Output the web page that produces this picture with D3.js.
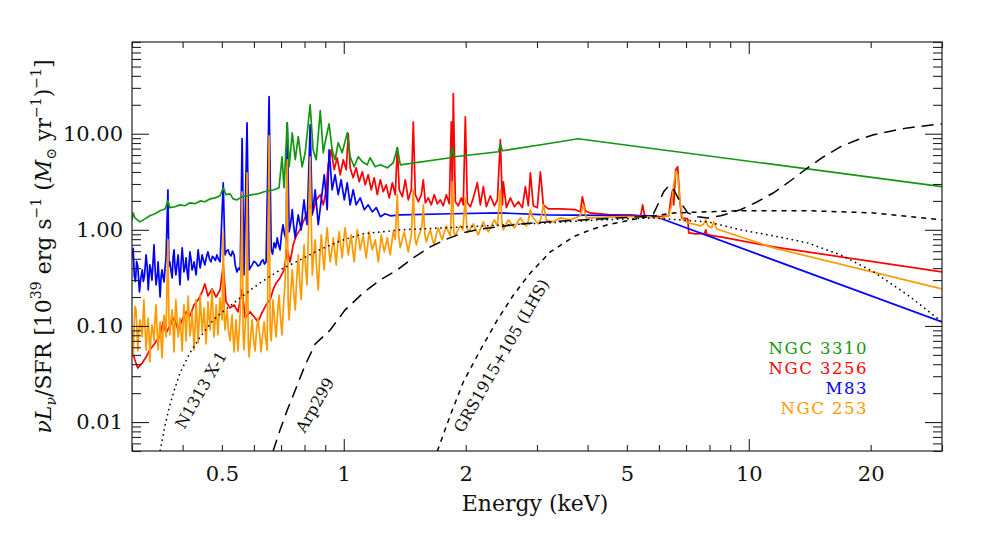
<!DOCTYPE html>
<html>
<head>
<meta charset="utf-8">
<script src="https://cdn.jsdelivr.net/npm/d3@7"></script>
<style>
  body { margin: 0; background: #fff; }
  svg text { font-family: "DejaVu Serif", serif; }
</style>
</head>
<body>
<svg id="drawing_region"></svg>
<script>
// ---- data: [energy keV, nuL_nu/SFR] ----
const ngc3310 = [[0.300,1.27],[0.302,1.50],[0.305,1.33],[0.314,1.21],[0.323,1.30],[0.332,1.40],[0.342,1.47],[0.352,1.58],[0.362,1.65],[0.368,2.00],[0.372,1.70],[0.383,1.74],[0.394,1.82],[0.405,1.78],[0.417,1.91],[0.429,1.87],[0.442,2.00],[0.454,1.96],[0.468,2.10],[0.481,2.15],[0.495,2.26],[0.504,2.74],[0.512,2.32],[0.524,2.37],[0.533,2.10],[0.545,2.05],[0.561,2.21],[0.577,2.26],[0.594,2.32],[0.614,2.37],[0.636,2.49],[0.654,2.55],[0.673,2.61],[0.692,2.74],[0.704,5.76],[0.712,2.74],[0.725,13.0],[0.733,4.53],[0.746,10.2],[0.759,5.36],[0.772,9.31],[0.789,4.53],[0.803,6.34],[0.826,20.0],[0.840,6.81],[0.855,5.36],[0.875,17.4],[0.890,6.34],[0.899,8.06],[0.920,12.7],[0.936,6.81],[0.952,5.36],[0.969,8.06],[0.991,6.34],[1.020,10.2],[1.037,5.76],[1.061,4.53],[1.086,5.76],[1.111,5.11],[1.143,4.75],[1.161,5.62],[1.196,4.53],[1.231,4.75],[1.281,4.42],[1.325,4.99],[1.356,7.15],[1.379,4.75],[1.833,5.62],[1.854,7.15],[1.875,5.76],[2.41,6.49],[2.436,7.68],[2.464,6.65],[3.18,7.87],[3.79,8.87],[30,2.81]];

const ngc3256 = [[0.300,0.0562],[0.305,0.0442],[0.310,0.0365],[0.318,0.0412],[0.325,0.0475],[0.332,0.0562],[0.342,0.0665],[0.352,0.0806],[0.358,0.110],[0.364,0.0845],[0.372,0.100],[0.381,0.121],[0.390,0.0909],[0.399,0.1155],[0.408,0.140],[0.417,0.127],[0.427,0.1655],[0.437,0.187],[0.447,0.226],[0.454,0.274],[0.462,0.205],[0.473,0.243],[0.484,0.200],[0.495,0.237],[0.504,0.432],[0.512,0.178],[0.524,0.154],[0.536,0.1655],[0.548,0.140],[0.561,0.237],[0.571,0.121],[0.587,0.140],[0.604,0.121],[0.614,0.110],[0.628,0.137],[0.643,0.1655],[0.658,0.187],[0.669,0.237],[0.681,0.280],[0.696,0.316],[0.712,0.383],[0.725,0.619],[0.737,0.464],[0.750,0.698],[0.763,0.866],[0.780,1.00],[0.794,1.21],[0.808,1.43],[0.826,1.82],[0.840,1.54],[0.855,2.05],[0.875,2.32],[0.890,1.82],[0.905,2.61],[0.915,4.75],[0.931,6.81],[0.947,4.22],[0.963,5.62],[0.980,3.74],[0.997,5.36],[1.014,4.22],[1.026,10.0],[1.037,4.42],[1.055,3.48],[1.073,4.42],[1.092,3.16],[1.111,4.02],[1.130,2.94],[1.149,3.74],[1.169,2.61],[1.189,3.48],[1.210,2.32],[1.231,3.32],[1.252,2.49],[1.273,2.94],[1.295,2.15],[1.318,3.09],[1.340,2.32],[1.356,7.15],[1.371,2.61],[1.395,2.21],[1.419,3.32],[1.443,2.05],[1.468,2.61],[1.485,13.3],[1.502,2.32],[1.528,1.96],[1.554,2.32],[1.572,3.32],[1.590,1.91],[1.617,2.15],[1.645,1.82],[1.673,2.32],[1.702,1.87],[1.731,2.05],[1.761,1.78],[1.792,2.32],[1.822,1.87],[1.843,13.3],[1.854,2.05],[1.864,26.1],[1.886,1.96],[1.918,1.78],[1.951,2.15],[1.973,1.82],[1.996,15.0],[2.019,1.91],[2.054,1.74],[2.089,2.15],[2.137,3.09],[2.174,1.82],[2.211,2.81],[2.25,1.74],[2.301,2.26],[2.354,1.78],[2.395,2.05],[2.436,8.66],[2.464,1.82],[2.478,3.16],[2.521,1.70],[2.579,2.15],[2.638,1.74],[2.699,1.96],[2.761,1.70],[2.808,2.81],[2.856,1.78],[2.889,3.92],[2.938,1.78],[3.006,1.70],[3.058,4.02],[3.110,1.82],[3.200,1.65],[3.426,1.65],[3.731,1.62],[3.839,1.54],[3.883,2.21],[3.949,1.58],[4.063,1.50],[4.556,1.43],[5.107,1.43],[5.408,1.40],[5.470,1.82],[5.532,1.40],[6.06,1.37],[6.344,1.40],[6.416,2.05],[6.49,2.61],[6.527,1.82],[6.602,4.22],[6.677,4.53],[6.754,2.05],[6.831,1.33],[7.069,1.30],[7.109,0.931],[7.397,0.909],[7.78,0.92],[7.83,1.00],[7.88,0.90],[8.15,0.866],[8.53,0.846],[11.51,0.665],[30,0.365]];

const m83 = [[0.300,0.511],[0.302,0.640],[0.304,0.330],[0.306,0.290],[0.308,0.470],[0.310,0.420],[0.313,0.226],[0.315,0.300],[0.318,0.383],[0.320,0.290],[0.322,0.330],[0.325,0.549],[0.327,0.420],[0.329,0.237],[0.332,0.432],[0.334,0.380],[0.336,0.300],[0.339,0.560],[0.340,0.698],[0.342,0.400],[0.344,0.267],[0.347,0.360],[0.348,0.464],[0.350,0.300],[0.352,0.200],[0.354,0.330],[0.356,0.383],[0.358,0.320],[0.360,0.287],[0.362,0.400],[0.364,0.511],[0.368,2.61],[0.370,0.420],[0.372,0.464],[0.375,0.360],[0.377,0.316],[0.379,0.520],[0.381,0.619],[0.383,0.420],[0.385,0.340],[0.388,0.460],[0.390,0.549],[0.392,0.380],[0.394,0.267],[0.397,0.480],[0.399,0.649],[0.401,0.500],[0.403,0.365],[0.406,0.420],[0.408,0.511],[0.410,0.380],[0.413,0.301],[0.415,0.450],[0.417,0.590],[0.420,0.480],[0.422,0.383],[0.425,0.420],[0.427,0.464],[0.430,0.380],[0.432,0.340],[0.435,0.500],[0.437,0.619],[0.440,0.470],[0.442,0.402],[0.445,0.480],[0.447,0.549],[0.451,0.470],[0.454,0.432],[0.458,0.520],[0.462,0.590],[0.466,0.500],[0.470,0.464],[0.474,0.530],[0.478,0.511],[0.482,0.480],[0.486,0.549],[0.490,0.500],[0.495,0.464],[0.504,3.09],[0.509,0.549],[0.513,0.600],[0.518,0.619],[0.522,0.560],[0.527,0.536],[0.531,0.600],[0.536,0.549],[0.540,0.420],[0.545,0.365],[0.550,0.400],[0.555,0.383],[0.561,8.87],[0.567,0.340],[0.577,13.0],[0.584,0.383],[0.589,0.410],[0.594,0.432],[0.600,0.470],[0.607,0.453],[0.614,0.420],[0.621,0.432],[0.626,0.470],[0.632,0.487],[0.637,0.440],[0.643,0.464],[0.654,24.3],[0.662,0.619],[0.667,0.560],[0.673,0.732],[0.679,0.650],[0.685,0.825],[0.690,0.700],[0.696,0.619],[0.702,0.900],[0.708,1.13],[0.714,0.900],[0.721,0.787],[0.725,13.0],[0.733,0.953],[0.740,1.20],[0.746,1.62],[0.752,1.10],[0.759,0.825],[0.765,1.10],[0.772,1.43],[0.778,1.20],[0.785,1.00],[0.791,1.50],[0.798,2.05],[0.805,1.40],[0.812,1.13],[0.826,12.4],[0.836,1.43],[0.850,2.61],[0.865,1.13],[0.880,2.05],[0.895,3.74],[0.910,1.62],[0.920,6.81],[0.936,2.61],[0.952,3.74],[0.969,2.32],[0.985,3.32],[1.003,2.05],[1.020,3.09],[1.037,1.82],[1.055,2.61],[1.073,1.82],[1.098,2.15],[1.124,1.62],[1.149,1.82],[1.176,1.54],[1.203,1.70],[1.231,1.37],[1.265,1.47],[1.303,1.40],[1.379,1.43],[1.854,1.47],[2.436,1.50],[3.18,1.43],[5.815,1.40],[30,0.110]];

const ngc253 = [[0.300,0.0909],[0.302,0.0500],[0.303,0.0698],[0.305,0.160],[0.307,0.147],[0.309,0.080],[0.310,0.0549],[0.312,0.090],[0.314,0.1155],[0.316,0.095],[0.318,0.0768],[0.320,0.140],[0.321,0.187],[0.323,0.100],[0.325,0.0562],[0.327,0.085],[0.329,0.121],[0.331,0.070],[0.332,0.0422],[0.334,0.075],[0.336,0.1024],[0.338,0.090],[0.340,0.0698],[0.342,0.120],[0.344,0.1655],[0.346,0.090],[0.348,0.0562],[0.350,0.080],[0.352,0.110],[0.354,0.070],[0.356,0.0464],[0.358,0.090],[0.360,0.130],[0.362,0.110],[0.364,0.0768],[0.368,0.787],[0.370,0.120],[0.372,0.0806],[0.374,0.110],[0.377,0.147],[0.379,0.090],[0.381,0.0536],[0.383,0.120],[0.385,0.187],[0.388,0.110],[0.390,0.0768],[0.392,0.090],[0.394,0.121],[0.397,0.080],[0.399,0.0549],[0.401,0.100],[0.403,0.1655],[0.406,0.110],[0.408,0.0698],[0.410,0.120],[0.413,0.205],[0.415,0.120],[0.417,0.0787],[0.420,0.100],[0.422,0.140],[0.425,0.090],[0.427,0.0562],[0.430,0.110],[0.432,0.187],[0.435,0.100],[0.437,0.0665],[0.440,0.130],[0.442,0.210],[0.445,0.120],[0.447,0.0867],[0.450,0.120],[0.452,0.154],[0.455,0.090],[0.457,0.0649],[0.460,0.110],[0.462,0.178],[0.465,0.120],[0.468,0.0909],[0.470,0.150],[0.473,0.237],[0.476,0.120],[0.478,0.0768],[0.481,0.110],[0.484,0.1655],[0.487,0.110],[0.489,0.0806],[0.492,0.130],[0.495,0.196],[0.498,0.140],[0.501,0.1155],[0.504,0.953],[0.507,0.120],[0.509,0.0909],[0.512,0.120],[0.515,0.147],[0.519,0.090],[0.524,0.0698],[0.527,0.100],[0.530,0.130],[0.533,0.080],[0.536,0.0536],[0.539,0.080],[0.542,0.1155],[0.545,0.080],[0.548,0.0549],[0.552,0.090],[0.555,0.140],[0.561,2.49],[0.564,0.090],[0.567,0.0562],[0.571,0.100],[0.574,0.147],[0.577,3.92],[0.581,0.070],[0.584,0.0475],[0.589,0.080],[0.594,0.1155],[0.599,0.070],[0.604,0.0549],[0.609,0.090],[0.614,0.121],[0.620,0.080],[0.625,0.0536],[0.630,0.080],[0.636,0.110],[0.641,0.075],[0.647,0.0562],[0.654,9.53],[0.658,0.090],[0.662,0.0698],[0.666,0.120],[0.669,0.187],[0.675,0.110],[0.681,0.0768],[0.686,0.130],[0.692,0.210],[0.698,0.120],[0.704,0.0806],[0.710,0.170],[0.717,0.301],[0.725,5.36],[0.729,0.180],[0.733,0.1155],[0.740,0.230],[0.746,0.383],[0.752,0.230],[0.759,0.147],[0.765,0.300],[0.772,0.549],[0.778,0.300],[0.785,0.187],[0.791,0.400],[0.798,0.698],[0.805,0.400],[0.812,0.267],[0.826,5.76],[0.836,0.340],[0.843,0.550],[0.850,0.787],[0.857,0.400],[0.865,0.237],[0.872,0.500],[0.880,0.887],[0.887,0.550],[0.895,0.383],[0.902,0.700],[0.910,1.05],[0.918,0.650],[0.926,0.464],[0.934,0.600],[0.942,0.825],[0.950,0.600],[0.958,0.432],[0.966,0.700],[0.974,0.953],[0.982,0.700],[0.991,0.511],[1.000,0.800],[1.008,1.05],[1.017,0.750],[1.026,0.549],[1.034,0.700],[1.043,0.887],[1.052,0.620],[1.061,0.464],[1.070,0.700],[1.080,1.00],[1.089,0.800],[1.098,0.619],[1.108,0.750],[1.117,0.866],[1.127,0.650],[1.136,0.511],[1.146,0.700],[1.156,0.953],[1.166,0.750],[1.176,0.619],[1.186,0.700],[1.196,0.787],[1.207,0.600],[1.217,0.464],[1.228,0.650],[1.238,0.887],[1.249,0.700],[1.259,0.590],[1.270,0.700],[1.281,0.825],[1.292,0.650],[1.303,0.549],[1.314,0.750],[1.325,0.953],[1.340,0.800],[1.356,2.32],[1.367,0.850],[1.379,0.649],[1.395,0.800],[1.411,0.953],[1.427,0.750],[1.443,0.590],[1.456,0.750],[1.468,0.866],[1.485,2.61],[1.500,0.800],[1.511,0.698],[1.528,0.850],[1.545,0.953],[1.560,1.10],[1.572,1.82],[1.585,0.900],[1.599,0.750],[1.618,0.880],[1.636,1.00],[1.655,0.800],[1.673,0.698],[1.692,0.900],[1.712,1.05],[1.731,0.900],[1.751,0.787],[1.771,0.950],[1.792,1.10],[1.812,0.950],[1.833,0.866],[1.854,3.16],[1.870,0.950],[1.886,0.866],[1.913,1.00],[1.940,1.10],[1.968,1.00],[1.996,2.15],[2.013,1.05],[2.030,0.953],[2.060,1.05],[2.089,1.15],[2.119,1.00],[2.149,0.887],[2.180,1.05],[2.211,1.21],[2.243,1.05],[2.275,0.953],[2.314,1.10],[2.354,1.27],[2.395,1.10],[2.436,2.61],[2.457,1.20],[2.478,1.00],[2.514,1.15],[2.550,1.27],[2.594,1.15],[2.638,1.05],[2.684,1.20],[2.730,1.33],[2.777,1.20],[2.824,1.10],[2.856,1.25],[2.889,1.62],[2.922,1.37],[2.972,1.25],[3.023,1.15],[3.066,1.30],[3.110,1.82],[3.164,1.27],[3.274,1.21],[3.426,1.33],[3.626,1.27],[3.839,1.40],[3.905,1.82],[3.97,1.33],[4.30,1.33],[4.82,1.37],[5.47,1.37],[6.06,1.33],[6.34,1.40],[6.45,1.82],[6.527,2.94],[6.602,4.02],[6.677,3.74],[6.754,2.05],[6.870,1.27],[7.11,1.18],[7.61,1.10],[7.74,1.15],[7.83,1.27],[7.92,1.10],[8.10,1.05],[8.20,1.21],[8.34,1.02],[11.51,0.649],[30,0.243]];

const n1313 = [[0.352,0.00499],[0.362,0.0093],[0.372,0.0150],[0.383,0.0226],[0.394,0.0324],[0.417,0.0523],[0.442,0.0768],[0.476,0.1155],[0.509,0.147],[0.555,0.196],[0.621,0.280],[0.696,0.383],[0.780,0.487],[0.860,0.604],[0.980,0.768],[1.117,0.909],[1.379,1.00],[1.973,1.07],[3.18,1.18],[4.30,1.27],[5.815,1.33],[7.92,1.21],[9.54,1.00],[11.51,0.866],[13.97,0.732],[16.86,0.549],[20.34,0.365],[24.69,0.210],[30,0.110]];

const arp299 = [[0.669,0.00499],[0.696,0.00825],[0.725,0.0133],[0.759,0.0215],[0.803,0.0392],[0.850,0.0649],[0.926,0.0909],[1.008,0.147],[1.117,0.221],[1.231,0.301],[1.356,0.383],[1.485,0.511],[1.636,0.665],[1.801,0.806],[1.973,0.931],[2.174,1.02],[2.395,1.07],[2.730,1.15],[3.18,1.21],[4.30,1.30],[5.41,1.37],[5.815,1.47],[5.993,1.91],[6.166,2.49],[6.344,2.87],[6.527,2.61],[6.792,1.91],[7.069,1.50],[7.483,1.37],[7.92,1.33],[8.53,1.40],[9.54,1.62],[10.5,1.96],[11.51,2.43],[12.68,3.24],[13.97,4.42],[15.3,5.76],[16.86,7.33],[18.57,8.66],[20.34,9.76],[22.53,10.7],[24.69,11.5],[27.35,12.1],[30,12.7]];

const grs1915 = [[1.702,0.00499],[1.833,0.0118],[1.973,0.0261],[2.174,0.0562],[2.395,0.1155],[2.624,0.210],[2.889,0.356],[3.237,0.590],[3.689,0.846],[4.063,1.00],[4.483,1.13],[5.408,1.33],[6.527,1.50],[7.92,1.54],[9.54,1.58],[13.97,1.58],[20.34,1.50],[30,1.27]];

const seriesNames  = ['NGC 3310', 'NGC 3256', 'M83', 'NGC 253'];
const seriesColors = ['#129612', '#ff0000', '#0000ff', '#ff9900'];
const xTickLabels  = [0.5, 1, 2, 5, 10, 20];
const yTickLabels  = [0.01, 0.1, 1, 10];

// ---- layout ----
const config = {
    width: 981,
    height: 535,
    margin: {top: 42, right: 39, bottom: 84, left: 132}
};
const inner_width  = config.width - config.margin.left - config.margin.right;
const inner_height = config.height - config.margin.top - config.margin.bottom;

const svg = d3.select('#drawing_region')
    .attr('width', config.width)
    .attr('height', config.height);

const chart = svg.append('g')
    .attr('transform', `translate(${config.margin.left}, ${config.margin.top})`);

const xscale = d3.scaleLog().domain([0.3, 30]).range([0, inner_width]);
const yscale = d3.scaleLog().domain([0.005, 90]).range([inner_height, 0]);

chart.append('clipPath').attr('id', 'clip')
    .append('rect').attr('width', inner_width).attr('height', inner_height);

const line = d3.line()
    .x(d => xscale(d[0]))
    .y(d => yscale(d[1]));

const plot = chart.append('g').attr('clip-path', 'url(#clip)');

// coloured spectra (draw order: red, blue, orange, green)
[[ngc3256, 1], [m83, 2], [ngc253, 3], [ngc3310, 0]].forEach(([data, i]) => {
    plot.append('path')
        .datum(data)
        .attr('d', line)
        .attr('fill', 'none')
        .attr('stroke', seriesColors[i])
        .attr('stroke-width', 1.7)
        .attr('stroke-linejoin', 'round');
});

// black template spectra
const templates = [
    {data: n1313,   dash: '1.6,3.6'},
    {data: arp299,  dash: '12,7'},
    {data: grs1915, dash: '5,5'}
];
templates.forEach(t => {
    plot.append('path')
        .datum(t.data)
        .attr('d', line)
        .attr('fill', 'none')
        .attr('stroke', '#000')
        .attr('stroke-width', 1.5)
        .attr('stroke-dasharray', t.dash);
});

// ---- axes: inward ticks on all four sides ----
const xAll = xscale.ticks();
const yAll = yscale.ticks();
const isDecade = v => Math.abs(Math.log10(v) - Math.round(Math.log10(v))) < 1e-6;
const xMajor = xAll.filter(isDecade);
const xMinor = xAll.filter(v => !isDecade(v));
const yMajor = yAll.filter(isDecade);
const yMinor = yAll.filter(v => !isDecade(v));

function tickGroup(axis, transform) {
    const g = chart.append('g').attr('transform', transform).call(axis);
    g.select('.domain').remove();
    g.selectAll('line').attr('stroke', '#222').attr('stroke-width', 1.1);
    g.selectAll('text').remove();
}
tickGroup(d3.axisBottom(xscale).tickValues(xMinor).tickSize(-6),  `translate(0,${inner_height})`);
tickGroup(d3.axisBottom(xscale).tickValues(xMajor).tickSize(-12), `translate(0,${inner_height})`);
tickGroup(d3.axisTop(xscale).tickValues(xMinor).tickSize(-6),     'translate(0,0)');
tickGroup(d3.axisTop(xscale).tickValues(xMajor).tickSize(-12),    'translate(0,0)');
tickGroup(d3.axisLeft(yscale).tickValues(yMinor).tickSize(-9),    'translate(0,0)');
tickGroup(d3.axisLeft(yscale).tickValues(yMajor).tickSize(-17),   'translate(0,0)');
tickGroup(d3.axisRight(yscale).tickValues(yMinor).tickSize(-9),   `translate(${inner_width},0)`);
tickGroup(d3.axisRight(yscale).tickValues(yMajor).tickSize(-17),  `translate(${inner_width},0)`);

chart.append('rect')
    .attr('width', inner_width)
    .attr('height', inner_height)
    .attr('fill', 'none')
    .attr('stroke', '#222')
    .attr('stroke-width', 1.2);

// tick labels
const xlab = chart.append('g')
    .attr('transform', `translate(0,${inner_height})`)
    .call(d3.axisBottom(xscale).tickValues(xTickLabels).tickSize(0).tickPadding(15)
        .tickFormat(d3.format('')));
xlab.select('.domain').remove();
xlab.selectAll('text').attr('font-family', '"DejaVu Serif", serif').attr('font-size', 21).attr('fill', '#111');

const ylab = chart.append('g')
    .call(d3.axisLeft(yscale).tickValues(yTickLabels).tickSize(0).tickPadding(9)
        .tickFormat(d3.format('.2f')));
ylab.select('.domain').remove();
ylab.selectAll('text').attr('font-family', '"DejaVu Serif", serif').attr('font-size', 21).attr('fill', '#111');

// axis titles
svg.append('text')
    .attr('x', 535)
    .attr('y', 511)
    .attr('text-anchor', 'middle')
    .attr('font-size', 22)
    .attr('fill', '#111')
    .text('Energy (keV)');

const ytitle = svg.append('text')
    .attr('transform', `translate(51, ${config.margin.top + inner_height / 2}) rotate(-90)`)
    .attr('text-anchor', 'middle')
    .attr('font-size', 22)
    .attr('fill', '#111');
const parts = [
    ['ν', 0, 22, 'italic'], ['L', 0, 22, 'italic'], ['ν', 5, 14, 'italic'],
    ['/SFR [10', -5, 22], ['39', -10, 14], [' erg s', 10, 22], ['−1', -10, 14],
    [' (', 10, 22], ['M', 0, 22, 'italic'], ['⊙', 5, 14], [' yr', -5, 22],
    ['−1', -10, 14], [')', 10, 22], ['−1', -10, 14], [']', 10, 22]
];
parts.forEach(p => {
    ytitle.append('tspan')
        .attr('dy', p[1])
        .attr('font-size', p[2])
        .attr('font-style', p[3] || 'normal')
        .text(p[0]);
});

// legend
const legendY = [354, 374, 394, 414];
seriesNames.forEach((name, i) => {
    svg.append('text')
        .attr('x', 868)
        .attr('y', legendY[i])
        .attr('text-anchor', 'end')
        .attr('font-size', 16.5)
        .attr('letter-spacing', 1.5)
        .attr('fill', seriesColors[i])
        .text(name);
});

// template labels along the curves
const curveLabels = [
    {text: 'N1313 X-1',         e: 0.444, v: 0.0216},
    {text: 'Arp299',            e: 0.849, v: 0.0150},
    {text: 'GRS1915+105 (LHS)', e: 2.45,  v: 0.049}
];
curveLabels.forEach(l => {
    svg.append('text')
        .attr('transform', `translate(${config.margin.left + xscale(l.e)}, ${config.margin.top + yscale(l.v)}) rotate(-60)`)
        .attr('text-anchor', 'middle')
        .attr('dominant-baseline', 'central')
        .attr('font-size', 16)
        .attr('fill', '#111')
        .text(l.text);
});
</script>
</body>
</html>
